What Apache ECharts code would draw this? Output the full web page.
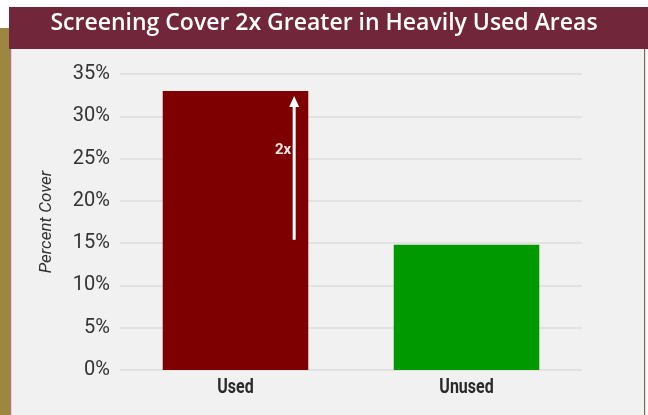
<!DOCTYPE html>
<html>
<head>
<meta charset="utf-8">
<script src="https://cdn.jsdelivr.net/npm/echarts@6/dist/echarts.min.js"></script>
<style>
  html, body { margin: 0; padding: 0; background: #ffffff; }
  #chart { width: 648px; height: 415px; }
</style>
</head>
<body>
<div id="chart"></div>
<script>
// Chart data
var titleText = 'Screening Cover 2x Greater in Heavily Used Areas';
var categories = ['Used', 'Unused'];
var coverValues = [33, 14.8];
var barColors = ['#7f0000', '#009a00'];
var yTicks = [0, 5, 10, 15, 20, 25, 30, 35];
// "2x" arrow drawn on the Used bar, from the Unused level up to near the top
var arrowCategory = 0;
var arrowFrom = 15.4;
var arrowTo = 32.4;
var arrowLabel = '2x';

var chart = echarts.init(document.getElementById('chart'), null, { renderer: 'canvas' });

var option = {
  backgroundColor: '#ffffff',
  animation: false,
  graphic: [
    // olive side strip
    { type: 'rect', z: -10, shape: { x: 0, y: 28, width: 10, height: 400 }, style: { fill: '#9d8640' } },
    { type: 'rect', z: -10, shape: { x: 10, y: 28, width: 1.5, height: 400 }, style: { fill: '#b07585' } },
    // light panel
    { type: 'rect', z: -10, shape: { x: 11.5, y: 49, width: 632.5, height: 370 }, style: { fill: '#f1f1f1' } },
    { type: 'rect', z: -10, shape: { x: 644, y: 49, width: 1.2, height: 370 }, style: { fill: '#8d5e52' } },
    // title band
    { type: 'rect', z: -5, shape: { x: 9, y: 7, width: 639, height: 42 }, style: { fill: '#72263a' } },
    {
      type: 'text', z: 10, left: 'center', top: 12,
      style: {
        text: titleText, fill: '#ffffff',
        font: '600 23px "Open Sans", "Noto Sans", sans-serif'
      }
    }
  ],
  grid: { left: 120, right: 66, top: 74, bottom: 45, containLabel: false },
  xAxis: {
    type: 'category',
    data: categories,
    axisLine: { show: false },
    axisTick: { show: false },
    axisLabel: { show: false }
  },
  yAxis: {
    type: 'value',
    min: 0, max: 35, interval: 5,
    name: 'Percent Cover',
    nameLocation: 'middle',
    nameGap: 65,
    nameRotate: 90,
    nameTextStyle: {
      color: '#333333', fontFamily: 'Roboto, sans-serif', fontStyle: 'italic', fontSize: 17
    },
    axisLine: { show: false },
    axisTick: { show: false },
    splitLine: { lineStyle: { color: '#dcdcdc', width: 1.5 } },
    axisLabel: {
      color: '#333333', fontFamily: 'Roboto, sans-serif', fontSize: 20, margin: 10,
      formatter: function (v) { return yTicks.indexOf(v) >= 0 ? v + '%' : ''; }
    }
  },
  series: [
    {
      type: 'bar',
      data: coverValues.map(function (v, i) {
        return { value: v, itemStyle: { color: barColors[i] } };
      }),
      barWidth: '63%',
      z: 2
    },
    {
      // condensed bold category labels under each bar
      type: 'custom',
      z: 5,
      silent: true,
      data: categories.map(function (c, i) { return [i, 0]; }),
      renderItem: function (params, api) {
        var p = api.coord([api.value(0), 0]);
        return {
          type: 'text',
          x: p[0], y: p[1] + 18,
          scaleX: 0.8,
          style: {
            text: categories[api.value(0)], x: 0, y: 0,
            align: 'center', verticalAlign: 'middle',
            fill: '#2a2a2a', font: 'bold 20px Roboto, sans-serif'
          }
        };
      }
    },
    {
      type: 'custom',
      z: 5,
      silent: true,
      data: [[arrowCategory, arrowFrom, arrowTo]],
      renderItem: function (params, api) {
        var bottom = api.coord([api.value(0), api.value(1)]);
        var top = api.coord([api.value(0), api.value(2)]);
        var band = api.size([1, 0])[0];
        var x = bottom[0] + band * 0.254;
        var headH = 11, headW = 5;
        return {
          type: 'group',
          children: [
            { type: 'line', shape: { x1: x, y1: bottom[1], x2: x, y2: top[1] + headH - 1 },
              style: { stroke: '#ffffff', lineWidth: 3 } },
            { type: 'polygon', shape: { points: [[x, top[1]], [x - headW, top[1] + headH], [x + headW, top[1] + headH]] },
              style: { fill: '#ffffff' } },
            { type: 'text', style: { text: arrowLabel, x: x - 3, y: (bottom[1] + top[1]) / 2 - 18,
              align: 'right', verticalAlign: 'middle', fill: '#f3e6e6',
              font: 'bold 15px Roboto, sans-serif' } }
          ]
        };
      }
    }
  ]
};

chart.setOption(option);
</script>
</body>
</html>
